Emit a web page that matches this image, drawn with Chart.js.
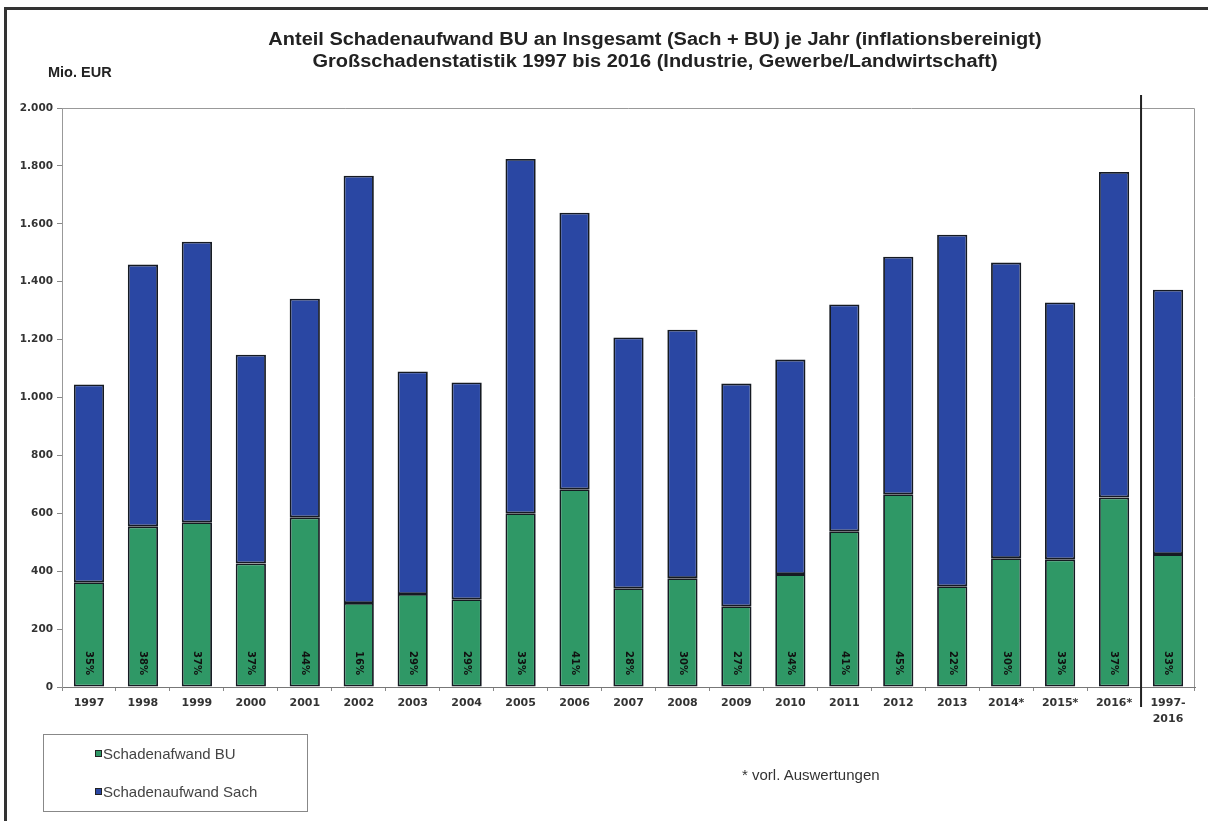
<!DOCTYPE html>
<html>
<head>
<meta charset="utf-8">
<script src="https://cdn.jsdelivr.net/npm/chart.js@4/dist/chart.umd.min.js"></script>
<style>
  body { margin: 0; background: #fff; font-family: "Liberation Sans", Arial, sans-serif; }
  #wrap { position: relative; width: 1208px; height: 821px; overflow: hidden; }
  #frame { position: absolute; left: 4px; top: 7px; width: 1300px; height: 900px;
           border-left: 3px solid #333; border-top: 3px solid #333; }
  #chart { position: absolute; left: 0; top: 0; }
  .title { position: absolute; left: 0; width: 1310px; text-align: center; font-weight: bold;
           font-size: 18px; color: #222; transform: scaleX(1.11); transform-origin: 655px 0; }
  #unit { position: absolute; left: 48px; top: 64px; font-weight: bold; font-size: 14.5px; color: #222; }
  #legend { position: absolute; left: 43px; top: 734px; width: 263px; height: 76px;
            border: 1px solid #888; font-size: 15px; color: #444; }
  .item { position: absolute; left: 51px; }
  .sw { display: inline-block; width: 5px; height: 5px; border: 1px solid #222; margin-right: 1px; vertical-align: 2px; }
  #note { position: absolute; left: 742px; top: 766px; font-size: 15px; color: #333; }
</style>
</head>
<body>
<div id="wrap">
  <div id="frame"></div>
  <canvas id="chart" width="1208" height="821"></canvas>
  <div class="title" style="top:29px">Anteil Schadenaufwand BU an Insgesamt (Sach + BU) je Jahr (inflationsbereinigt)</div>
  <div class="title" style="top:51px">Großschadenstatistik 1997 bis 2016 (Industrie, Gewerbe/Landwirtschaft)</div>
  <div id="unit">Mio. EUR</div>
  <div id="legend">
    <div class="item" style="top:10px"><span class="sw" style="background:#2f9866"></span>Schadenafwand BU</div>
    <div class="item" style="top:48px"><span class="sw" style="background:#2a47a3"></span>Schadenaufwand Sach</div>
  </div>
  <div id="note">* vorl. Auswertungen</div>
</div>
<script>
// Data (Mio. EUR)
var categories = ["1997", "1998", "1999", "2000", "2001", "2002", "2003", "2004", "2005", "2006",
  "2007", "2008", "2009", "2010", "2011", "2012", "2013", "2014*", "2015*", "2016*", ["1997-", "2016"]];
var buValues = [362, 555, 569, 427, 586, 290, 321, 303, 600, 683,
  341, 376, 279, 390, 538, 666, 348, 445, 441, 655, 459];
var totalValues = [1045, 1459, 1538, 1148, 1341, 1766, 1090, 1052, 1824, 1638,
  1207, 1234, 1048, 1131, 1321, 1486, 1562, 1466, 1328, 1779, 1372];
var shareLabels = ["35%", "38%", "37%", "37%", "44%", "16%", "29%", "29%", "33%", "41%",
  "28%", "30%", "27%", "34%", "41%", "45%", "22%", "30%", "33%", "37%", "33%"];
var yTicks = [0, 200, 400, 600, 800, 1000, 1200, 1400, 1600, 1800, 2000];

// Sach = total - BU
var sachValues = totalValues.map(function (t, i) { return t - buValues[i]; });

function fmtDe(v) {
  return String(v).replace(/\B(?=(\d{3})+(?!\d))/g, ".");
}

var axisFont = "'DejaVu Sans', sans-serif";

var extras = {
  id: "extras",
  afterDatasetsDraw: function (chart) {
    var ctx = chart.ctx;
    var area = chart.chartArea;
    var x = chart.scales.x;
    var y = chart.scales.y;
    ctx.save();
    // plot frame
    ctx.strokeStyle = "#999";
    ctx.lineWidth = 1;
    ctx.beginPath();
    ctx.moveTo(area.left, area.top + 0.5);
    ctx.lineTo(area.right - 0.5, area.top + 0.5);
    ctx.lineTo(area.right - 0.5, area.bottom);
    ctx.stroke();
    // separator before the total column
    var sx = (x.getPixelForValue(categories.length - 2) + x.getPixelForValue(categories.length - 1)) / 2;
    ctx.strokeStyle = "#222";
    ctx.lineWidth = 2;
    ctx.beginPath();
    ctx.moveTo(sx, area.top - 13);
    ctx.lineTo(sx, area.bottom + 20);
    ctx.stroke();
    // share labels inside the green bars
    ctx.fillStyle = "#111";
    ctx.font = "bold 10px " + axisFont;
    ctx.textAlign = "center";
    ctx.textBaseline = "middle";
    shareLabels.forEach(function (s, i) {
      ctx.save();
      ctx.translate(x.getPixelForValue(i), y.getPixelForValue(0) - 24);
      ctx.rotate(Math.PI / 2);
      ctx.fillText(s, 0, 0);
      ctx.restore();
    });
    ctx.restore();
  }
};

var ctx = document.getElementById("chart").getContext("2d");
var chart = new Chart(ctx, {
  type: "bar",
  data: {
    labels: categories,
    datasets: [
      {
        label: "Schadenafwand BU",
        data: buValues,
        backgroundColor: "#2f9866",
        borderColor: "#151a22",
        borderWidth: 1.8,
        borderSkipped: false,
      },
      {
        label: "Schadenaufwand Sach",
        data: sachValues,
        backgroundColor: "#2a47a3",
        borderColor: "#151a22",
        borderWidth: 1.8,
        borderSkipped: false,
      },
    ],
  },
  options: {
    responsive: false,
    animation: false,
    events: [],
    layout: { padding: { left: 4, right: 13, top: 108, bottom: 92 } },
    plugins: {
      legend: { display: false },
      title: { display: false },
      tooltip: { enabled: false },
    },
    datasets: { bar: { barPercentage: 0.56, categoryPercentage: 1 } },
    scales: {
      x: {
        stacked: true,
        offset: true,
        grid: { offset: true, drawOnChartArea: false, tickLength: 4, color: "#888" },
        border: { color: "#777", width: 1 },
        ticks: {
          color: "#333",
          padding: 4,
          maxRotation: 0,
          autoSkip: false,
          font: { family: axisFont, size: 11, weight: "bold", lineHeight: 1.45 },
        },
        afterFit: function (scale) { scale.height = 42; },
      },
      y: {
        stacked: true,
        min: 0,
        max: 2000,
        afterBuildTicks: function (scale) {
          scale.ticks = yTicks.map(function (v) { return { value: v }; });
        },
        grid: { drawOnChartArea: false, tickLength: 5, color: "#888" },
        border: { color: "#999", width: 1 },
        ticks: {
          color: "#333",
          padding: 4,
          callback: function (v) { return fmtDe(v); },
          font: { family: axisFont, size: 10.5, weight: "bold" },
        },
        afterFit: function (scale) { scale.width = 58; },
      },
    },
  },
  plugins: [extras],
});
</script>
</body>
</html>
